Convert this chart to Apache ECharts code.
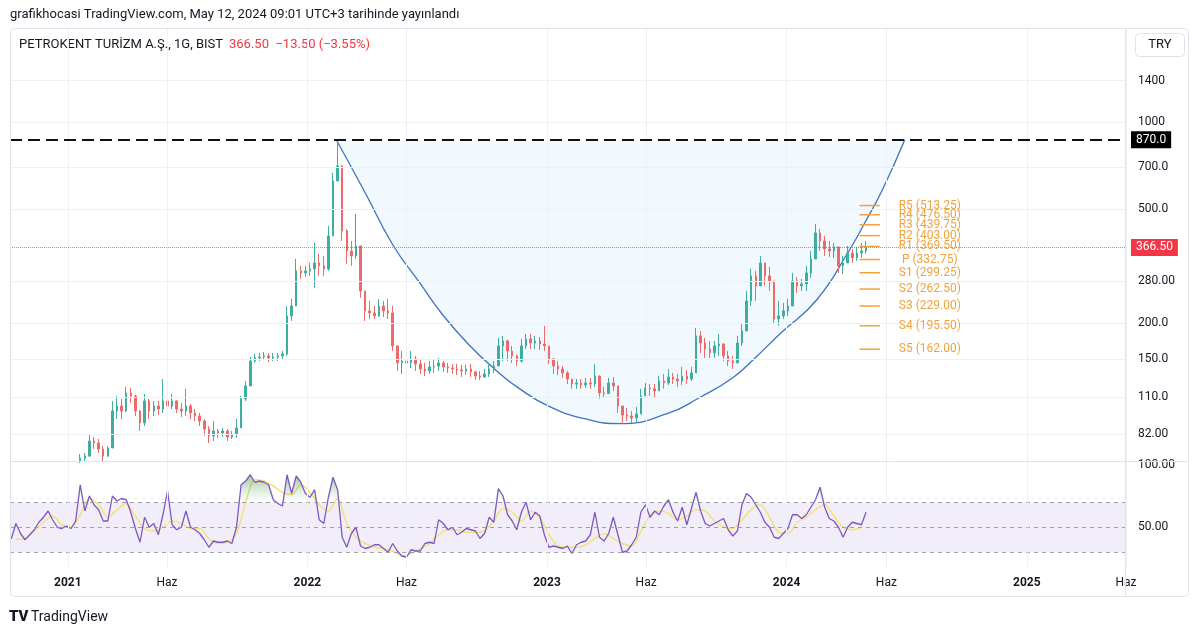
<!DOCTYPE html>
<html><head><meta charset="utf-8">
<script src="https://cdn.jsdelivr.net/npm/echarts@6.0.0/dist/echarts.min.js"></script>
<style>html,body{margin:0;padding:0;background:#fff}#c{width:1200px;height:634px}</style>
</head><body><div id="c"></div>
<script>
// ---------- DATA ----------
// weekly candles [open, close, low, high], first week centred 2021-01-20
const candles = [
[66.0,67.6,65.0,69.8],[67.6,68.7,66.0,70.4],[68.7,77.5,68.2,82.0],[77.5,76.3,72.7,80.1],[76.3,72.7,70.4,78.8],
[72.7,68.7,66.0,74.5],[68.7,73.3,68.2,74.5],[73.3,98.6,73.3,106.9],[98.6,102.7,92.5,111.3],[102.7,98.6,92.5,108.7],
[98.6,114.0,98.0,119.7],[114.0,111.3,105.2,118.7],[111.3,98.6,94.8,112.5],[98.6,89.6,84.0,99.5],[89.6,106.9,87.4,113.1],
[106.9,98.6,92.5,108.7],[98.6,102.7,94.8,106.9],[102.7,100.2,95.5,106.9],[100.2,106.9,97.1,127.5],[106.9,102.7,98.6,111.3],
[102.7,106.9,100.2,113.1],[106.9,100.2,97.1,107.5],[100.2,98.6,94.0,105.2],[98.6,102.7,94.8,117.8],[102.7,97.1,92.5,104.4],
[97.1,94.8,91.0,100.2],[94.8,91.0,87.4,97.1],[91.0,85.4,80.7,92.5],[85.4,80.7,76.3,87.4],[80.7,84.0,77.5,91.0],
[84.0,82.7,79.4,85.4],[82.7,84.0,80.1,86.1],[84.0,80.1,77.5,85.4],[80.1,82.0,78.8,84.0],[82.0,86.1,79.4,92.5],
[86.1,108.7,86.1,111.3],[108.7,120.6,106.9,125.5],[120.6,147.4,120.6,152.2],[147.4,151.0,145.1,155.9],[151.0,152.2,147.4,157.2],
[152.2,153.5,148.6,158.4],[153.5,151.0,146.2,157.2],[151.0,152.2,147.4,157.2],[152.2,153.5,147.4,157.2],[153.5,155.9,148.6,159.7],
[155.9,211.5,153.5,229.2],[211.5,229.2,203.2,242.5],[229.2,303.6,229.2,334.4],[303.6,298.8,284.7,316.1],[298.8,303.6,289.4,316.1],
[303.6,308.6,291.7,323.8],[308.6,323.8,264.9,380.2],[323.8,316.1,291.7,348.0],[316.1,308.6,291.7,342.5],[308.6,402.2,303.6,435.8],
[402.2,625.4,402.2,666.9],[625.4,705.4,625.4,870.0],[705.4,418.6,386.3,710.0],[418.6,356.5,321.2,425.0],[356.5,342.5,316.1,386.3],
[342.5,371.1,334.4,479.8],[371.1,258.6,244.4,371.1],[258.6,220.2,203.2,258.6],[220.2,216.7,206.5,238.6],[216.7,211.5,206.5,229.2],
[211.5,229.2,209.8,242.5],[229.2,220.2,209.8,238.6],[220.2,216.7,206.5,242.5],[216.7,166.3,159.7,229.2],[166.3,145.1,136.0,166.3],
[145.1,147.4,132.8,159.7],[147.4,145.1,136.0,157.2],[145.1,149.8,139.3,159.7],[149.8,143.9,136.0,153.5],[143.9,138.2,132.8,149.8],
[138.2,136.0,130.6,145.1],[136.0,140.5,132.8,147.4],[140.5,141.6,133.9,149.8],[141.6,145.1,136.0,151.0],[145.1,140.5,134.9,147.4],
[140.5,139.3,133.9,145.1],[139.3,138.2,132.8,143.9],[138.2,137.1,131.7,143.9],[137.1,136.0,129.6,142.8],[136.0,138.2,131.7,142.8],
[138.2,134.9,129.6,143.9],[134.9,130.6,126.5,136.0],[130.6,129.6,126.5,136.0],[129.6,132.8,128.5,138.2],[132.8,138.2,129.6,145.1],
[138.2,141.6,133.9,147.4],[141.6,166.3,141.6,177.3],[166.3,173.0,147.4,180.2],[173.0,159.7,147.4,175.0],[159.7,153.5,145.1,166.3],
[153.5,147.4,141.6,155.0],[147.4,166.3,145.1,175.9],[166.3,175.9,162.3,183.1],[175.9,170.3,162.3,183.1],[170.3,173.0,162.3,180.2],
[173.0,168.9,161.0,178.7],[168.9,166.3,159.7,195.3],[166.3,149.8,143.9,166.3],[149.8,141.6,132.8,151.0],[141.6,138.2,131.7,147.4],
[138.2,133.9,128.5,141.6],[133.9,127.5,122.5,136.0],[127.5,122.5,117.8,127.5],[122.5,123.5,117.8,127.5],[123.5,121.5,117.8,127.5],
[121.5,123.5,118.7,128.5],[123.5,122.5,117.8,128.5],[122.5,130.6,119.7,143.9],[130.6,114.0,108.7,131.0],[114.0,113.5,109.6,119.7],
[113.5,123.5,113.5,128.5],[123.5,120.6,115.9,129.6],[120.6,102.7,97.1,120.6],[102.7,95.5,88.9,102.7],[95.5,94.8,91.0,101.1],
[94.8,93.3,89.6,98.6],[93.3,96.3,90.3,101.9],[96.3,111.3,96.3,117.8],[111.3,118.7,111.3,123.5],[118.7,117.8,111.3,122.5],
[117.8,115.9,109.6,122.5],[115.9,125.5,115.9,130.6],[125.5,123.5,117.8,132.8],[123.5,129.6,121.5,138.2],[129.6,127.5,122.5,133.9],
[127.5,125.5,119.7,132.8],[125.5,130.6,121.5,140.5],[130.6,127.5,122.5,137.1],[127.5,133.9,125.5,140.5],[133.9,180.2,133.9,192.1],
[180.2,170.3,157.2,187.6],[170.3,162.3,151.0,177.3],[162.3,157.2,151.0,173.0],[157.2,166.3,151.0,173.0],[166.3,168.9,153.5,183.1],
[168.9,153.5,147.4,170.0],[153.5,147.4,141.6,159.7],[147.4,145.1,138.2,153.5],[145.1,170.3,145.1,180.2],[170.3,187.6,166.3,200.0],
[187.6,238.6,187.6,258.6],[238.6,291.7,229.2,308.6],[291.7,269.2,238.6,303.6],[269.2,323.8,269.2,342.5],[323.8,291.7,269.2,323.8],
[291.7,280.2,258.6,313.6],[280.2,206.5,198.4,280.2],[206.5,211.5,195.3,238.6],[211.5,220.2,206.5,234.8],[220.2,229.2,211.5,242.5],
[229.2,280.2,229.2,298.8],[280.2,269.2,254.4,289.4],[269.2,273.5,258.6,284.7],[273.5,298.8,258.6,316.1],[298.8,334.4,287.0,356.5],
[334.4,411.9,334.4,442.8],[411.9,386.3,356.5,425.4],[386.3,362.3,342.5,402.2],[362.3,356.5,339.8,386.3],[356.5,368.1,337.1,380.2],
[368.1,316.1,298.8,368.1],[316.1,323.8,296.4,342.5],[323.8,350.8,323.8,371.1],[350.8,337.1,323.8,362.3],[337.1,350.8,329.0,368.1],
[350.8,356.5,337.1,380.2],[356.5,366.5,348.0,386.3]
];
// weekly RSI(14), first value at week -15 (2020-10-07)
const rsiValues = [
40.7,53,45,40,44,48,54,58,63,56,50,49,51,49,55,
84,63,75,68,64,55,55,75,71,73,
72,62,49,38,58,50,53,44,60,79,
52,48,50,63,50,48,45,40,34,39,
38,38,39,37,50,84,87,92,86,87,
86,84,72,69,67,92,77,91,86,77,
74,80,56,53,74,90,80,42,34,45,
50,35,33,34,36,36,33,30,37,31,
27,26,32,31,31,37,38,37,56,53,
48,50,44,46,49,48,47,41,45,58,
54,81,75,60,55,48,62,70,56,62,
59,44,34,35,34,33,35,29,36,38,
39,44,62,42,39,45,58,44,30,31,
36,42,62,68,58,63,60,67,72,62,
55,66,52,65,78,63,53,51,53,55,
57,48,43,47,68,77,74,68,62,54,
50,42,41,45,49,60,60,57,60,66,
72,82,66,57,55,50,42,50,54,53,
52,62
];
// RSI moving average, every second week starting week -14
const rsiMaValues = [
40.5,41,47,54,59,52,50,
60,73,68,58,64,69,59,49,47,50,
55,53,49,49,41,37,38,45,70,88,
87,83,78,76,84,78,68,63,73,53,
42,37,34,33,31,27,29,33,37,44,
48,48,46,46,47,55,65,62,55,63,
58,44,35,34,34,36,41,45,41,37,
35,47,59,63,61,56,59,64,63,55,
50,49,56,64,68,58,46,45,54,58,
64,68,59,50,48,50
];
// cup curve drawing
const cupDates = ['2022-02-14','2022-03-30','2022-05-11','2022-06-21','2022-07-26','2022-09-04','2022-10-16','2022-11-20',
  '2023-01-05','2023-02-27','2023-04-22','2023-07-03','2023-08-21','2023-10-11','2023-11-16','2023-12-22',
  '2024-02-16','2024-04-06','2024-04-30','2024-05-26','2024-06-29'];
const cupPrices = [870,568.7,374.7,276.2,213.6,167.9,136.3,118.0,
  102.1,92.7,89.1,96.5,109.7,128.8,152.5,183.4,
  240.9,359.9,450.6,582.5,870];
const resistanceLevel = 870;
const lastPrice = 366.5;
// pivots
const pivotNames = ['R5','R4','R3','R2','R1','P','S1','S2','S3','S4','S5'];
const pivotValues = [513.25,476.50,439.75,403.00,369.50,332.75,299.25,262.50,229.00,195.50,162.00];
const pivotStart = '2024-04-21', pivotEnd = '2024-05-22';
// axis ticks
const yTickValues = [1400,1000,700,500,280,200,150,110,82];
const yTickLabels = ['1400','1000','700.0','500.0','280.00','200.0','150.0','110.0','82.00'];
const rsiBands = [70,50,30];
const rsiBandLabels = ['','50.00',''];
const rsiTopValue = 100, rsiTopLabel = '100.00';
const xTickDates = ['2021-01-01','2021-06-01','2022-01-01','2022-06-01','2023-01-01','2023-06-01','2024-01-01','2024-06-01','2025-01-01','2025-06-01'];
const xTickLabels = ['2021','Haz','2022','Haz','2023','Haz','2024','Haz','2025','Haz'];

// ---------- BUILD ----------
function ts(s){const p=s.split('-').map(Number);return new Date(p[0],p[1]-1,p[2]).getTime();}
function weekDate(k){return new Date(2021,0,20+7*k).getTime();}
const candleData = candles.map((c,i)=>[weekDate(i),c[0],c[1],c[2],c[3]]);
const rsiData = rsiValues.map((v,j)=>[weekDate(j-15),v]);
const maData = rsiMaValues.map((v,m)=>[weekDate(-14+2*m),v]);
const cupData = cupDates.map((d,i)=>[ts(d),cupPrices[i]]);
const FONT='Roboto';
const ORANGE='#f2a23c';
const xMin = ts('2020-10-05'), xMax = ts('2025-06-01');

const chart = echarts.init(document.getElementById('c'));
const gridLineStyle={color:'#eef0f5',width:1,type:'solid'};

const priceGrid = yTickValues.map((v,i)=>({yAxis:v,label:{formatter:yTickLabels[i]}}))
  .concat(xTickDates.map(d=>({xAxis:ts(d),label:{show:false}})));
const rsiGrid = rsiBands.map((v,i)=>({yAxis:v,lineStyle:{color:'rgba(140,146,158,0.85)',type:[4,4],width:1},
     label:{show:rsiBandLabels[i]!=='',formatter:rsiBandLabels[i]}}))
  .concat([{yAxis:rsiTopValue,lineStyle:{color:'rgba(0,0,0,0)'},label:{show:true,formatter:rsiTopLabel}}])
  .concat(xTickDates.map((d,i)=>({xAxis:ts(d),lineStyle:gridLineStyle,
     label:{show:true,position:'start',distance:9,formatter:xTickLabels[i],fontWeight:/^\d/.test(xTickLabels[i])?'bold':'normal'}})));

const option = {
  animation:false,
  textStyle:{fontFamily:FONT},
  grid:[{left:10,top:28,width:1116,height:433},{left:10,top:461,width:1116,height:107}],
  xAxis:[
    {type:'time',gridIndex:0,min:xMin,max:xMax,show:false},
    {type:'time',gridIndex:1,min:xMin,max:xMax,show:false}
  ],
  yAxis:[
    {type:'log',logBase:10,gridIndex:0,min:66.02,max:2134,show:false},
    {type:'value',gridIndex:1,min:17.4,max:103.0,show:false}
  ],
  series:[
    {type:'line',xAxisIndex:0,yAxisIndex:0,data:[],z:0,silent:true,
      markLine:{silent:true,symbol:['none','none'],animation:false,lineStyle:gridLineStyle,
        label:{position:'end',distance:12,color:'#131722',fontSize:12,fontFamily:FONT},data:priceGrid}},
    {type:'line',name:'cup',xAxisIndex:0,yAxisIndex:0,data:cupData,smooth:0.5,showSymbol:false,z:1,silent:true,
      lineStyle:{color:'#3f72c0',width:1.3},
      areaStyle:{origin:resistanceLevel,color:'rgba(33,150,243,0.09)'}},
    {type:'candlestick',xAxisIndex:0,yAxisIndex:0,data:candleData,encode:{x:0,y:[1,2,3,4]},barWidth:2,z:2,
      itemStyle:{color:'#3fae9f',color0:'#ec6a6a',borderColor:'#3fae9f',borderColor0:'#ec6a6a',borderWidth:1}},
    {type:'line',xAxisIndex:0,yAxisIndex:0,data:[],z:4,silent:true,
      markLine:{silent:true,symbol:['none','none'],animation:false,
        label:{position:'end',distance:5,fontSize:12,fontFamily:FONT,color:'#fff',padding:[3,5,2,5]},
        data:[
          {yAxis:resistanceLevel,lineStyle:{color:'#111',width:2,type:[12,6]},
            label:{formatter:resistanceLevel.toFixed(1),backgroundColor:'#000'}},
          {yAxis:lastPrice,lineStyle:{color:'rgba(242,54,69,0.7)',width:1,type:'dotted'},
            label:{formatter:lastPrice.toFixed(2),backgroundColor:'#f23645'}}
        ]}},
    {type:'custom',xAxisIndex:0,yAxisIndex:0,z:5,silent:true,
      data:pivotValues.map(v=>[ts(pivotStart),ts(pivotEnd),v]),
      encode:{x:[0,1],y:2},
      renderItem:function(params,api){
        const v=api.value(2);
        const a=api.coord([api.value(0),v]);
        const b=api.coord([api.value(1),v]);
        return {type:'group',children:[
          {type:'line',shape:{x1:a[0],y1:a[1],x2:b[0],y2:b[1]},style:{stroke:ORANGE,lineWidth:1.5}},
          {type:'text',x:b[0]+50,y:a[1],style:{text:pivotNames[params.dataIndex]+' ('+v.toFixed(2)+')',
            fill:ORANGE,fontSize:12,fontFamily:FONT,align:'center',verticalAlign:'middle'}}
        ]};
      }},
    // RSI pane
    {type:'line',xAxisIndex:1,yAxisIndex:1,data:[],z:0,silent:true,
      markArea:{silent:true,itemStyle:{color:'rgba(126,87,194,0.1)'},data:[[{yAxis:30},{yAxis:70}]]},
      markLine:{silent:true,symbol:['none','none'],animation:false,
        label:{position:'end',distance:12,color:'#131722',fontSize:12,fontFamily:FONT},data:rsiGrid}},
    {type:'line',name:'RSI MA',xAxisIndex:1,yAxisIndex:1,data:maData,smooth:0.3,showSymbol:false,z:2,silent:true,
      lineStyle:{color:'#f3e17a',width:1.5}},
    {type:'line',name:'RSI',xAxisIndex:1,yAxisIndex:1,data:rsiData,showSymbol:false,z:3,silent:true,
      lineStyle:{color:'#7e57c2',width:1.3},
      areaStyle:{origin:'start',color:new echarts.graphic.LinearGradient(0,466,0,503,
        [{offset:0,color:'rgba(46,125,50,0.95)'},{offset:1,color:'rgba(129,199,132,0)'}],true)}}
  ],
  graphic:[
    {type:'text',x:10,y:15,style:{text:'grafikhocasi TradingView.com, May 12, 2024 09:01 UTC+3 tarihinde yayınlandı',
      fill:'#131722',fontSize:13,fontFamily:FONT,verticalAlign:'middle'}},
    {type:'text',x:19,y:45,style:{text:'PETROKENT TURİZM A.Ş., 1G, BIST',fill:'#131722',fontSize:13,fontFamily:FONT,verticalAlign:'middle'}},
    {type:'text',x:229,y:45,style:{text:'366.50  −13.50 (−3.55%)',fill:'#f23645',fontSize:13,fontFamily:FONT,verticalAlign:'middle'}},
    {type:'rect',shape:{x:10.5,y:28.5,width:1178,height:568,r:4},style:{fill:'none',stroke:'#e0e3eb',lineWidth:1},z:20,silent:true},
    {type:'line',shape:{x1:1125.5,y1:28,x2:1125.5,y2:597},style:{stroke:'#e0e3eb',lineWidth:1},z:20,silent:true},
    {type:'line',shape:{x1:10,y1:461.5,x2:1189,y2:461.5},style:{stroke:'#e0e3eb',lineWidth:1},z:20,silent:true},
    {type:'rect',shape:{x:1135.5,y:33.5,width:49,height:23,r:4},style:{fill:'#fff',stroke:'#e0e3eb',lineWidth:1},z:21},
    {type:'text',x:1160,y:45,style:{text:'TRY',fill:'#131722',fontSize:13,fontFamily:FONT,align:'center',verticalAlign:'middle'},z:22},
    {type:'text',x:9,y:617,style:{text:'TV',fill:'#131722',fontSize:15,fontWeight:900,fontFamily:FONT,verticalAlign:'middle'}},
    {type:'text',x:31,y:617,style:{text:'TradingView',fill:'#131722',fontSize:14,fontFamily:FONT,verticalAlign:'middle'}}
  ]
};
chart.setOption(option);
</script></body></html>
